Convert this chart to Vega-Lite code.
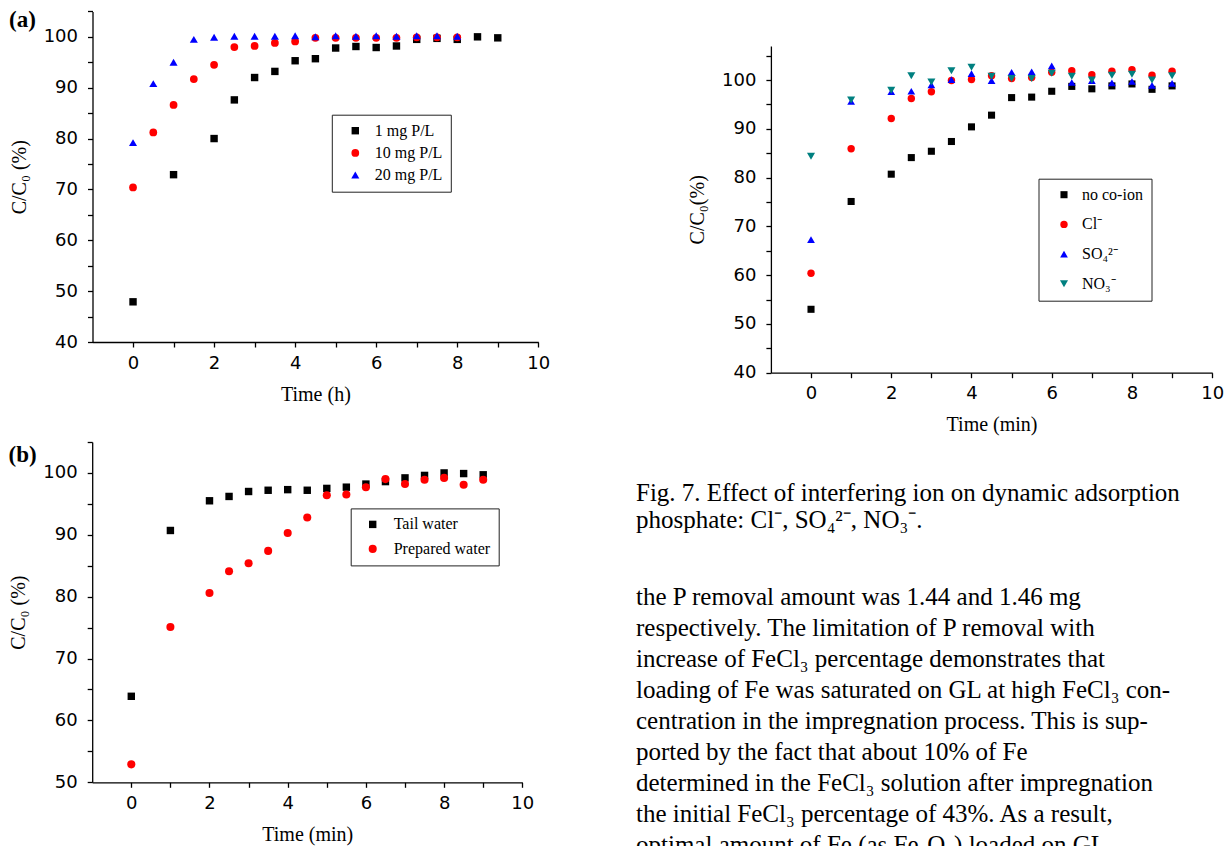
{
  "$schema": "https://vega.github.io/schema/vega-lite/v6.json",
  "width": 1230,
  "height": 846,
  "autosize": {"type": "none"},
  "padding": 0,
  "background": "white",
  "config": {
    "view": {"stroke": null},
    "axis": {
      "domainColor": "#000000", "domainWidth": 1.3, "tickColor": "#000000", "tickWidth": 1.3, "tickSize": 5,
      "grid": false, "labelFont": "DejaVu Sans", "labelFontSize": 18, "labelColor": "#000000",
      "labelFlush": false, "labelOverlap": false,
      "titleFont": "Liberation Serif", "titleFontSize": 20, "titleFontWeight": "normal", "titleColor": "#000000"
    },
    "axisX": {"labelPadding": 7, "titlePadding": 12},
    "axisY": {"labelPadding": 10, "titlePadding": 14},
    "legend": {
      "orient": "none", "strokeColor": "#222222", "fillColor": "#ffffff", "padding": 8, "symbolSize": 60,
      "symbolStrokeWidth": 0, "labelFont": "Liberation Serif", "labelFontSize": 16, "labelColor": "#000000", "labelLimit": 300
    }
  },
  "resolve": {
    "scale": {"x": "independent", "y": "independent", "color": "independent", "shape": "independent", "size": "independent"},
    "axis": {"x": "independent", "y": "independent"},
    "legend": {"color": "independent", "shape": "independent"}
  },
  "layer": [
    {
      "data": {"values": [
        {"ta": 0, "va": 47.9, "sa": "1 mg P/L"}, {"ta": 1, "va": 72.9, "sa": "1 mg P/L"}, {"ta": 2, "va": 80.0, "sa": "1 mg P/L"},
        {"ta": 2.5, "va": 87.6, "sa": "1 mg P/L"}, {"ta": 3, "va": 92.0, "sa": "1 mg P/L"}, {"ta": 3.5, "va": 93.2, "sa": "1 mg P/L"},
        {"ta": 4, "va": 95.3, "sa": "1 mg P/L"}, {"ta": 4.5, "va": 95.7, "sa": "1 mg P/L"}, {"ta": 5, "va": 97.8, "sa": "1 mg P/L"},
        {"ta": 5.5, "va": 98.1, "sa": "1 mg P/L"}, {"ta": 6, "va": 97.9, "sa": "1 mg P/L"}, {"ta": 6.5, "va": 98.2, "sa": "1 mg P/L"},
        {"ta": 7, "va": 99.5, "sa": "1 mg P/L"}, {"ta": 7.5, "va": 99.7, "sa": "1 mg P/L"}, {"ta": 8, "va": 99.5, "sa": "1 mg P/L"},
        {"ta": 8.5, "va": 100.0, "sa": "1 mg P/L"}, {"ta": 9, "va": 99.8, "sa": "1 mg P/L"},
        {"ta": 0, "va": 70.4, "sa": "10 mg P/L"}, {"ta": 0.5, "va": 81.2, "sa": "10 mg P/L"}, {"ta": 1, "va": 86.6, "sa": "10 mg P/L"},
        {"ta": 1.5, "va": 91.7, "sa": "10 mg P/L"}, {"ta": 2, "va": 94.5, "sa": "10 mg P/L"}, {"ta": 2.5, "va": 98.0, "sa": "10 mg P/L"},
        {"ta": 3, "va": 98.2, "sa": "10 mg P/L"}, {"ta": 3.5, "va": 98.8, "sa": "10 mg P/L"}, {"ta": 4, "va": 99.1, "sa": "10 mg P/L"},
        {"ta": 4.5, "va": 99.8, "sa": "10 mg P/L"}, {"ta": 5, "va": 99.8, "sa": "10 mg P/L"}, {"ta": 5.5, "va": 99.8, "sa": "10 mg P/L"},
        {"ta": 6, "va": 99.8, "sa": "10 mg P/L"}, {"ta": 6.5, "va": 99.8, "sa": "10 mg P/L"}, {"ta": 7, "va": 99.9, "sa": "10 mg P/L"},
        {"ta": 7.5, "va": 99.9, "sa": "10 mg P/L"}, {"ta": 8, "va": 99.9, "sa": "10 mg P/L"},
        {"ta": 0, "va": 79.2, "sa": "20 mg P/L"}, {"ta": 0.5, "va": 90.8, "sa": "20 mg P/L"}, {"ta": 1, "va": 95.0, "sa": "20 mg P/L"},
        {"ta": 1.5, "va": 99.5, "sa": "20 mg P/L"}, {"ta": 2, "va": 99.9, "sa": "20 mg P/L"}, {"ta": 2.5, "va": 100.1, "sa": "20 mg P/L"},
        {"ta": 3, "va": 100.1, "sa": "20 mg P/L"}, {"ta": 3.5, "va": 100.1, "sa": "20 mg P/L"}, {"ta": 4, "va": 100.2, "sa": "20 mg P/L"},
        {"ta": 4.5, "va": 100.0, "sa": "20 mg P/L"}, {"ta": 5, "va": 100.2, "sa": "20 mg P/L"}, {"ta": 5.5, "va": 100.1, "sa": "20 mg P/L"},
        {"ta": 6, "va": 100.2, "sa": "20 mg P/L"}, {"ta": 6.5, "va": 100.1, "sa": "20 mg P/L"}, {"ta": 7, "va": 100.2, "sa": "20 mg P/L"},
        {"ta": 7.5, "va": 100.2, "sa": "20 mg P/L"}, {"ta": 8, "va": 100.1, "sa": "20 mg P/L"},
        {"ta": -3.06, "va": 103.3, "lab": "(a)"}
      ]},
      "encoding": {
        "x": {"field": "ta", "type": "quantitative", "scale": {"domain": [-1, 10], "range": [92.5, 538.3], "nice": false, "zero": false},
              "axis": {"orient": "bottom", "offset": -504, "title": "Time (h)", "values": [0, 1, 2, 3, 4, 5, 6, 7, 8, 9, 10], "labelExpr": "datum.value % 2 == 0 ? datum.label : ''"}},
        "y": {"field": "va", "type": "quantitative", "scale": {"domain": [40, 105], "range": [342, 11.4], "nice": false, "zero": false},
              "axis": {"orient": "left", "offset": -92.5, "title": "C/C₀ (%)", "values": [40, 45, 50, 55, 60, 65, 70, 75, 80, 85, 90, 95, 100, 105], "labelExpr": "datum.value % 10 == 0 ? datum.label : ''"}}
      },
      "layer": [
        {
          "transform": [{"filter": "datum.sa != null"}],
          "mark": {"type": "point", "filled": true, "opacity": 1, "strokeWidth": 0},
          "encoding": {
            "color": {"field": "sa", "type": "nominal",
                      "scale": {"domain": ["1 mg P/L", "10 mg P/L", "20 mg P/L"], "range": ["#000000", "#ff0000", "#0000ff"]},
                      "legend": {"title": null, "legendX": 331.8, "legendY": 114.7, "rowPadding": 6.2, "symbolOffset": 7.5, "labelOffset": 11.5}},
            "shape": {"field": "sa", "type": "nominal",
                      "scale": {"domain": ["1 mg P/L", "10 mg P/L", "20 mg P/L"], "range": ["square", "circle", "triangle-up"]},
                      "legend": {"title": null, "legendX": 331.8, "legendY": 114.7, "rowPadding": 6.2, "symbolOffset": 7.5, "labelOffset": 11.5}},
            "size": {"field": "sa", "type": "nominal",
                     "scale": {"domain": ["1 mg P/L", "10 mg P/L", "20 mg P/L"], "range": [55, 65, 85]}, "legend": null}
          }
        },
        {
          "transform": [{"filter": "datum.lab != null"}],
          "mark": {"type": "text", "align": "left", "baseline": "middle", "font": "Liberation Serif", "fontSize": 23, "fontWeight": "bold", "color": "#000000"},
          "encoding": {"text": {"field": "lab"}}
        }
      ]
    },
    {
      "data": {"values": [
        {"tr": 0, "vr": 53.0, "sr": "no co-ion"}, {"tr": 1, "vr": 75.1, "sr": "no co-ion"}, {"tr": 2, "vr": 80.7, "sr": "no co-ion"},
        {"tr": 2.5, "vr": 84.1, "sr": "no co-ion"}, {"tr": 3, "vr": 85.4, "sr": "no co-ion"}, {"tr": 3.5, "vr": 87.4, "sr": "no co-ion"},
        {"tr": 4, "vr": 90.4, "sr": "no co-ion"}, {"tr": 4.5, "vr": 92.8, "sr": "no co-ion"}, {"tr": 5, "vr": 96.4, "sr": "no co-ion"},
        {"tr": 5.5, "vr": 96.5, "sr": "no co-ion"}, {"tr": 6, "vr": 97.7, "sr": "no co-ion"}, {"tr": 6.5, "vr": 98.7, "sr": "no co-ion"},
        {"tr": 7, "vr": 98.2, "sr": "no co-ion"}, {"tr": 7.5, "vr": 98.8, "sr": "no co-ion"}, {"tr": 8, "vr": 99.2, "sr": "no co-ion"},
        {"tr": 8.5, "vr": 98.1, "sr": "no co-ion"}, {"tr": 9, "vr": 98.8, "sr": "no co-ion"},
        {"tr": 0, "vr": 60.4, "sr": "Cl⁻"}, {"tr": 1, "vr": 85.9, "sr": "Cl⁻"}, {"tr": 2, "vr": 92.1, "sr": "Cl⁻"},
        {"tr": 2.5, "vr": 96.2, "sr": "Cl⁻"}, {"tr": 3, "vr": 97.6, "sr": "Cl⁻"}, {"tr": 3.5, "vr": 99.9, "sr": "Cl⁻"},
        {"tr": 4, "vr": 100.1, "sr": "Cl⁻"}, {"tr": 4.5, "vr": 100.9, "sr": "Cl⁻"}, {"tr": 5, "vr": 100.3, "sr": "Cl⁻"},
        {"tr": 5.5, "vr": 100.5, "sr": "Cl⁻"}, {"tr": 6, "vr": 101.6, "sr": "Cl⁻"}, {"tr": 6.5, "vr": 101.9, "sr": "Cl⁻"},
        {"tr": 7, "vr": 101.1, "sr": "Cl⁻"}, {"tr": 7.5, "vr": 101.8, "sr": "Cl⁻"}, {"tr": 8, "vr": 102.1, "sr": "Cl⁻"},
        {"tr": 8.5, "vr": 101.0, "sr": "Cl⁻"}, {"tr": 9, "vr": 101.8, "sr": "Cl⁻"},
        {"tr": 0, "vr": 67.3, "sr": "SO₄²⁻"}, {"tr": 1, "vr": 95.6, "sr": "SO₄²⁻"}, {"tr": 2, "vr": 97.6, "sr": "SO₄²⁻"},
        {"tr": 2.5, "vr": 97.7, "sr": "SO₄²⁻"}, {"tr": 3, "vr": 99.0, "sr": "SO₄²⁻"}, {"tr": 3.5, "vr": 100.1, "sr": "SO₄²⁻"},
        {"tr": 4, "vr": 101.3, "sr": "SO₄²⁻"}, {"tr": 4.5, "vr": 99.9, "sr": "SO₄²⁻"}, {"tr": 5, "vr": 101.6, "sr": "SO₄²⁻"},
        {"tr": 5.5, "vr": 101.7, "sr": "SO₄²⁻"}, {"tr": 6, "vr": 102.9, "sr": "SO₄²⁻"}, {"tr": 6.5, "vr": 99.5, "sr": "SO₄²⁻"},
        {"tr": 7, "vr": 99.9, "sr": "SO₄²⁻"}, {"tr": 7.5, "vr": 99.4, "sr": "SO₄²⁻"}, {"tr": 8, "vr": 99.7, "sr": "SO₄²⁻"},
        {"tr": 8.5, "vr": 98.9, "sr": "SO₄²⁻"}, {"tr": 9, "vr": 99.3, "sr": "SO₄²⁻"},
        {"tr": 0, "vr": 84.4, "sr": "NO₃⁻"}, {"tr": 1, "vr": 95.9, "sr": "NO₃⁻"}, {"tr": 2, "vr": 97.9, "sr": "NO₃⁻"},
        {"tr": 2.5, "vr": 100.9, "sr": "NO₃⁻"}, {"tr": 3, "vr": 99.6, "sr": "NO₃⁻"}, {"tr": 3.5, "vr": 101.9, "sr": "NO₃⁻"},
        {"tr": 4, "vr": 102.6, "sr": "NO₃⁻"}, {"tr": 4.5, "vr": 100.8, "sr": "NO₃⁻"}, {"tr": 5, "vr": 100.3, "sr": "NO₃⁻"},
        {"tr": 5.5, "vr": 100.3, "sr": "NO₃⁻"}, {"tr": 6, "vr": 101.4, "sr": "NO₃⁻"}, {"tr": 6.5, "vr": 100.8, "sr": "NO₃⁻"},
        {"tr": 7, "vr": 100.0, "sr": "NO₃⁻"}, {"tr": 7.5, "vr": 101.0, "sr": "NO₃⁻"}, {"tr": 8, "vr": 101.2, "sr": "NO₃⁻"},
        {"tr": 8.5, "vr": 100.0, "sr": "NO₃⁻"}, {"tr": 9, "vr": 100.9, "sr": "NO₃⁻"}
      ]},
      "mark": {"type": "point", "filled": true, "opacity": 1, "strokeWidth": 0},
      "encoding": {
        "x": {"field": "tr", "type": "quantitative", "scale": {"domain": [-1, 10], "range": [770.9, 1212.2], "nice": false, "zero": false},
              "axis": {"orient": "bottom", "offset": -473.3, "title": "Time (min)", "values": [0, 1, 2, 3, 4, 5, 6, 7, 8, 9, 10], "labelExpr": "datum.value % 2 == 0 ? datum.label : ''"}},
        "y": {"field": "vr", "type": "quantitative", "scale": {"domain": [40, 107], "range": [372.7, 45.9], "nice": false, "zero": false},
              "axis": {"orient": "left", "offset": -770.9, "title": "C/C₀(%)", "values": [40, 45, 50, 55, 60, 65, 70, 75, 80, 85, 90, 95, 100, 105], "labelExpr": "datum.value % 10 == 0 ? datum.label : ''"}},
        "color": {"field": "sr", "type": "nominal",
                  "scale": {"domain": ["no co-ion", "Cl⁻", "SO₄²⁻", "NO₃⁻"], "range": ["#000000", "#ff0000", "#0000ff", "#008080"]},
                  "legend": {"title": null, "legendX": 1038.5, "legendY": 178.7, "rowPadding": 13.7, "symbolOffset": 9.5, "labelOffset": 10}},
        "shape": {"field": "sr", "type": "nominal",
                  "scale": {"domain": ["no co-ion", "Cl⁻", "SO₄²⁻", "NO₃⁻"], "range": ["square", "circle", "triangle-up", "triangle-down"]},
                  "legend": {"title": null, "legendX": 1038.5, "legendY": 178.7, "rowPadding": 13.7, "symbolOffset": 9.5, "labelOffset": 10}},
        "size": {"field": "sr", "type": "nominal",
                 "scale": {"domain": ["no co-ion", "Cl⁻", "SO₄²⁻", "NO₃⁻"], "range": [50, 65, 85, 85]}, "legend": null}
      }
    },
    {
      "data": {"values": [
        {"tb": 0, "vb": 63.9, "sb": "Tail water"}, {"tb": 1, "vb": 90.7, "sb": "Tail water"}, {"tb": 2, "vb": 95.5, "sb": "Tail water"},
        {"tb": 2.5, "vb": 96.2, "sb": "Tail water"}, {"tb": 3, "vb": 97.0, "sb": "Tail water"}, {"tb": 3.5, "vb": 97.2, "sb": "Tail water"},
        {"tb": 4, "vb": 97.3, "sb": "Tail water"}, {"tb": 4.5, "vb": 97.2, "sb": "Tail water"}, {"tb": 5, "vb": 97.5, "sb": "Tail water"},
        {"tb": 5.5, "vb": 97.7, "sb": "Tail water"}, {"tb": 6, "vb": 98.2, "sb": "Tail water"}, {"tb": 6.5, "vb": 98.6, "sb": "Tail water"},
        {"tb": 7, "vb": 99.2, "sb": "Tail water"}, {"tb": 7.5, "vb": 99.6, "sb": "Tail water"}, {"tb": 8, "vb": 100.0, "sb": "Tail water"},
        {"tb": 8.5, "vb": 99.9, "sb": "Tail water"}, {"tb": 9, "vb": 99.7, "sb": "Tail water"},
        {"tb": 0, "vb": 52.9, "sb": "Prepared water"}, {"tb": 1, "vb": 75.1, "sb": "Prepared water"}, {"tb": 2, "vb": 80.6, "sb": "Prepared water"},
        {"tb": 2.5, "vb": 84.1, "sb": "Prepared water"}, {"tb": 3, "vb": 85.4, "sb": "Prepared water"}, {"tb": 3.5, "vb": 87.4, "sb": "Prepared water"},
        {"tb": 4, "vb": 90.3, "sb": "Prepared water"}, {"tb": 4.5, "vb": 92.8, "sb": "Prepared water"}, {"tb": 5, "vb": 96.4, "sb": "Prepared water"},
        {"tb": 5.5, "vb": 96.5, "sb": "Prepared water"}, {"tb": 6, "vb": 97.7, "sb": "Prepared water"}, {"tb": 6.5, "vb": 99.0, "sb": "Prepared water"},
        {"tb": 7, "vb": 98.2, "sb": "Prepared water"}, {"tb": 7.5, "vb": 98.9, "sb": "Prepared water"}, {"tb": 8, "vb": 99.2, "sb": "Prepared water"},
        {"tb": 8.5, "vb": 98.1, "sb": "Prepared water"}, {"tb": 9, "vb": 98.9, "sb": "Prepared water"},
        {"tb": -3.14, "vb": 102.9, "lab": "(b)"}
      ]},
      "encoding": {
        "x": {"field": "tb", "type": "quantitative", "scale": {"domain": [-1, 10], "range": [92.2, 522.3], "nice": false, "zero": false},
              "axis": {"orient": "bottom", "offset": -63.7, "title": "Time (min)", "values": [0, 1, 2, 3, 4, 5, 6, 7, 8, 9, 10], "labelExpr": "datum.value % 2 == 0 ? datum.label : ''"}},
        "y": {"field": "vb", "type": "quantitative", "scale": {"domain": [50, 105], "range": [782.3, 442.0], "nice": false, "zero": false},
              "axis": {"orient": "left", "offset": -92.2, "title": "C/C₀ (%)", "values": [50, 55, 60, 65, 70, 75, 80, 85, 90, 95, 100, 105], "labelExpr": "datum.value % 10 == 0 ? datum.label : ''"}}
      },
      "layer": [
        {
          "transform": [{"filter": "datum.sb != null"}],
          "mark": {"type": "point", "filled": true, "opacity": 1, "strokeWidth": 0},
          "encoding": {
            "color": {"field": "sb", "type": "nominal",
                      "scale": {"domain": ["Tail water", "Prepared water"], "range": ["#000000", "#ff0000"]},
                      "legend": {"title": null, "legendX": 350.7, "legendY": 508.4, "rowPadding": 8.5, "symbolOffset": 6, "labelOffset": 13}},
            "shape": {"field": "sb", "type": "nominal",
                      "scale": {"domain": ["Tail water", "Prepared water"], "range": ["square", "circle"]},
                      "legend": {"title": null, "legendX": 350.7, "legendY": 508.4, "rowPadding": 8.5, "symbolOffset": 6, "labelOffset": 13}},
            "size": {"field": "sb", "type": "nominal",
                     "scale": {"domain": ["Tail water", "Prepared water"], "range": [55, 65]}, "legend": null}
          }
        },
        {
          "transform": [{"filter": "datum.lab != null"}],
          "mark": {"type": "text", "align": "left", "baseline": "middle", "font": "Liberation Serif", "fontSize": 23, "fontWeight": "bold", "color": "#000000"},
          "encoding": {"text": {"field": "lab"}}
        }
      ]
    },
    {
      "data": {"values": [
        {"col": 0, "row": -3.35, "txt": "Fig. 7. Effect of interfering ion on dynamic adsorption"},
        {"col": 0, "row": -2.48, "txt": "phosphate: Cl⁻, SO₄²⁻, NO₃⁻."},
        {"col": 0, "row": 0, "txt": "the P removal amount was 1.44 and 1.46 mg"},
        {"col": 0, "row": 1, "txt": "respectively. The limitation of P removal with"},
        {"col": 0, "row": 2, "txt": "increase of FeCl₃ percentage demonstrates that"},
        {"col": 0, "row": 3, "txt": "loading of Fe was saturated on GL at high FeCl₃ con-"},
        {"col": 0, "row": 4, "txt": "centration in the impregnation process. This is sup-"},
        {"col": 0, "row": 5, "txt": "ported by the fact that about 10% of Fe"},
        {"col": 0, "row": 6, "txt": "determined in the FeCl₃ solution after impregnation"},
        {"col": 0, "row": 7, "txt": "the initial FeCl₃ percentage of 43%. As a result,"},
        {"col": 0, "row": 8, "txt": "optimal amount of Fe (as Fe₂O₃) loaded on GL"}
      ]},
      "mark": {"type": "text", "align": "left", "baseline": "middle", "font": "Liberation Serif", "fontSize": 25, "color": "#000000", "clip": true},
      "encoding": {
        "x": {"field": "col", "type": "quantitative", "scale": {"domain": [0, 1], "range": [636, 1230], "nice": false, "zero": false}, "axis": null},
        "y": {"field": "row", "type": "quantitative", "scale": {"domain": [-5, 8.03], "range": [442, 846], "nice": false, "zero": false}, "axis": null},
        "text": {"field": "txt"}
      }
    }
  ]
}
